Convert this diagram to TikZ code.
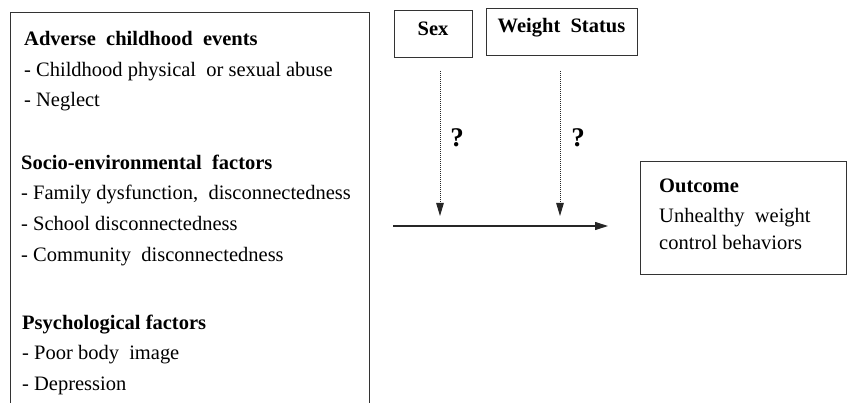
\documentclass[tikz,border=0pt]{standalone}
\usepackage{fontspec}
\setmainfont{Liberation Serif}
\usetikzlibrary{arrows.meta}
\begin{document}
\begin{tikzpicture}[x=1pt,y=-1pt,
  box/.style={draw=black!80,line width=1.1pt,inner sep=0pt,anchor=north west},
  txt/.style={inner sep=0pt,anchor=base west,font=\fontsize{20.5}{24}\selectfont},
  btxt/.style={inner sep=0pt,anchor=base,font=\fontsize{20.5}{24}\selectfont\bfseries},
  qtxt/.style={inner sep=0pt,anchor=base,font=\fontsize{27}{30}\selectfont\bfseries},
  solidarrow/.style={line width=1.1pt,draw=black!85,-{Triangle[length=13pt,width=8pt]}},
  dotarrow/.style={line width=1pt,draw=black!85,densely dotted,-{Triangle[length=13pt,width=7.5pt]}}]
\useasboundingbox (0,0) rectangle (847,403);
% left box
\node[box,minimum width=359pt,minimum height=405pt] (factors) at (10,12) {};
\node[txt] (a0) at (24,46) {\textbf{Adverse~ childhood~ events}};
\node[txt] (a1) at (24,77) {- Childhood physical~ or sexual abuse};
\node[txt] (a2) at (24,107) {- Neglect};
\node[txt] (b0) at (21,170) {\textbf{Socio-environmental~ factors}};
\node[txt] (b1) at (21,200) {- Family dysfunction,~ disconnectedness};
\node[txt] (b2) at (21,231) {- School disconnectedness};
\node[txt] (b3) at (21,262) {- Community~ disconnectedness};
\node[txt] (c0) at (22,330) {\textbf{Psychological factors}};
\node[txt] (c1) at (22,360) {- Poor body~ image};
\node[txt] (c2) at (22,391) {- Depression};
% moderator boxes
\node[box,minimum width=78pt,minimum height=47pt] (sexbox) at (394,10) {};
\node[btxt] (sex) at (433,36) {Sex};
\node[box,minimum width=151pt,minimum height=47pt] (wsbox) at (486,8) {};
\node[btxt] (ws) at (561.5,33) {Weight~ Status};
% outcome box
\node[box,minimum width=206pt,minimum height=113pt] (outbox) at (640,161) {};
\node[txt] (o0) at (659,193) {\textbf{Outcome}};
\node[txt] (o1) at (659,223) {Unhealthy~ weight};
\node[txt] (o2) at (659,250) {control behaviors};
% arrows
\coordinate (s1) at (440,71);
\coordinate (s2) at (440,216);
\coordinate (w1) at (560,71);
\coordinate (w2) at (560,216);
\coordinate (h1) at (393,226);
\coordinate (h2) at (608,226);
\draw[dotarrow] (s1) -- (s2);
\draw[dotarrow] (w1) -- (w2);
\draw[solidarrow] (h1) -- (h2);
\node[qtxt] (q1) at (457,147) {?};
\node[qtxt] (q2) at (578,147) {?};
\end{tikzpicture}
\end{document}
